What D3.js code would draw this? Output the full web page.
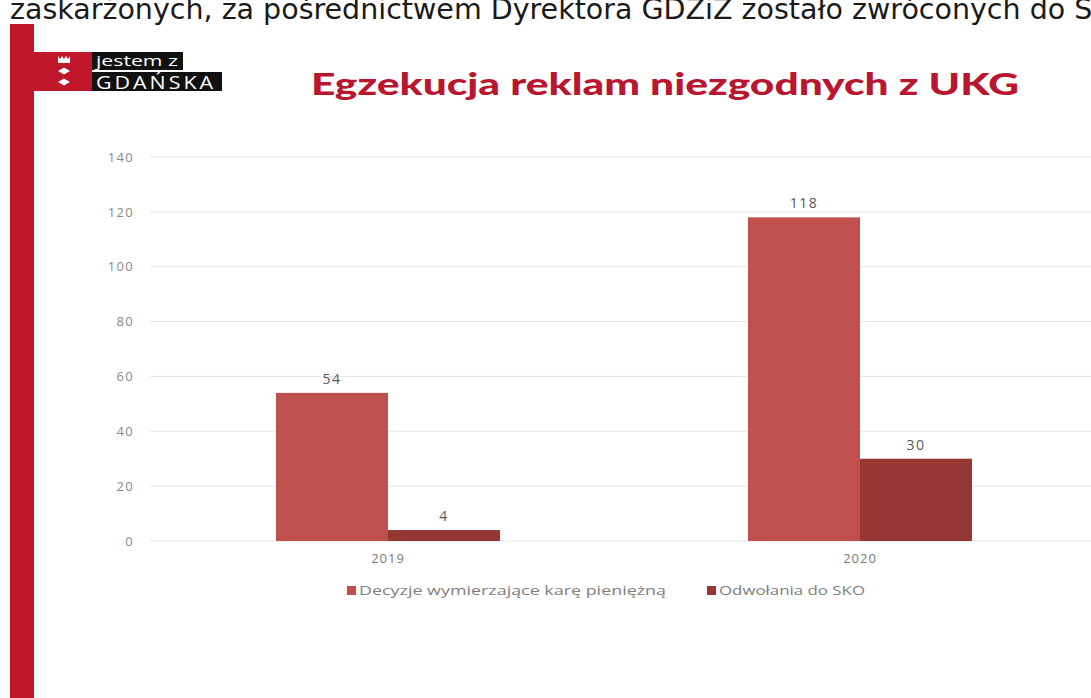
<!DOCTYPE html>
<html><head><meta charset="utf-8">
<script src="https://cdn.jsdelivr.net/npm/d3@7"></script>
<style>
html,body{margin:0;padding:0;background:#fff;overflow:hidden;}
svg{display:block;}
</style></head>
<body>
<svg id="c" width="1091" height="698"></svg>
<script>
const categories = ["2019", "2020"];
const seriesNames = ["Decyzje wymierzające karę pieniężną", "Odwołania do SKO"];
const decyzje = [54, 118];
const odwolania = [4, 30];
const yTicks = [0, 20, 40, 60, 80, 100, 120, 140];
const seriesColors = ["#c0504d", "#953735"];
const title = "Egzekucja reklam niezgodnych z UKG";
const headerText = "zaskarżonych, za pośrednictwem Dyrektora GDZiZ zostało zwróconych do SKO";

const svg = d3.select("#c");
const FONT = "Open Sans, sans-serif";

// header text (cut off at the top of the page, as in the source)
svg.append("text").attr("x", 10).attr("y", 19)
  .attr("font-family", "DejaVu Sans, sans-serif")
  .attr("font-size", 28.5).attr("fill", "#1a1a1a")
  .text(headerText);

// red frame
svg.append("rect").attr("x", 10).attr("y", 24).attr("width", 24).attr("height", 674).attr("fill", "#c0172a");
svg.append("rect").attr("x", 33).attr("y", 52).attr("width", 59).attr("height", 39).attr("fill", "#c0172a");
// crest
const crest = svg.append("g").attr("fill", "#fff");
crest.append("path").attr("d", "M58,56 L60,59 L62,56 L64,59 L66,56 L68,59 L70,56 L70,63 L58,63 Z");
crest.append("path").attr("d", "M58,71 L64,67.5 L70,71 L64,74.5 Z");
crest.append("path").attr("d", "M58,82 L64,78.5 L70,82 L64,85.5 Z");
// logo boxes
svg.append("rect").attr("x", 92).attr("y", 52).attr("width", 91).attr("height", 18).attr("fill", "#111");
svg.append("rect").attr("x", 92).attr("y", 72).attr("width", 130).attr("height", 19).attr("fill", "#111");
svg.append("text").attr("x", 96).attr("y", 66).attr("font-family", FONT)
  .attr("font-size", 15).attr("fill", "#fff")
  .attr("textLength", 82).attr("lengthAdjust", "spacingAndGlyphs").text("jestem z");
svg.append("text").attr("x", 96).attr("y", 89).attr("font-family", FONT)
  .attr("font-size", 18).attr("letter-spacing", 2.5).attr("fill", "#fff")
  .attr("textLength", 120).attr("lengthAdjust", "spacingAndGlyphs").text("GDAŃSKA");

// title
svg.append("text").attr("x", 311).attr("y", 95)
  .attr("font-family", "Lato, sans-serif").attr("font-weight", "900")
  .attr("font-size", 31).attr("fill", "#b8172f")
  .attr("textLength", 708).attr("lengthAdjust", "spacingAndGlyphs")
  .text(title);

// scales
const y = d3.scaleLinear().domain([0, 140]).range([541, 157]);
const x0 = d3.scaleBand().domain(categories).range([152, 1096])
  .paddingInner(248 / 472).paddingOuter(124 / 472);
const x1 = d3.scaleBand().domain(seriesNames).range([0, x0.bandwidth()]).padding(0);

// gridlines
svg.append("g").selectAll("line").data(yTicks).join("line")
  .attr("x1", 150).attr("x2", 1091)
  .attr("y1", d => y(d)).attr("y2", d => y(d))
  .attr("stroke", "#e6e6e6").attr("stroke-width", 1);

// y axis labels
const yAxis = d3.axisLeft(y).tickValues(yTicks).tickSize(0).tickPadding(0);
const ya = svg.append("g").attr("transform", "translate(134,0)").call(yAxis);
ya.select(".domain").remove();
ya.selectAll("text").attr("font-family", FONT).attr("font-size", 13)
  .attr("letter-spacing", 1.3).attr("fill", "#8a8a8a");

// bars
const data = categories.map((c, i) => ({cat: c, vals: [decyzje[i], odwolania[i]]}));
const groups = svg.append("g").selectAll("g").data(data).join("g")
  .attr("transform", d => `translate(${x0(d.cat)},0)`);
groups.selectAll("rect").data(d => d.vals.map((v, j) => ({name: seriesNames[j], v, j}))).join("rect")
  .attr("x", d => x1(d.name)).attr("width", x1.bandwidth())
  .attr("y", d => y(d.v)).attr("height", d => y(0) - y(d.v))
  .attr("fill", d => seriesColors[d.j]);
groups.selectAll("text.val").data(d => d.vals.map((v, j) => ({name: seriesNames[j], v, j}))).join("text")
  .attr("class", "val")
  .attr("x", d => x1(d.name) + x1.bandwidth() / 2).attr("y", d => y(d.v) - 9)
  .attr("text-anchor", "middle").attr("font-family", FONT)
  .attr("font-size", 14).attr("letter-spacing", 1.5).attr("fill", "#595959").text(d => d.v);

// x axis labels
const xAxis = d3.axisBottom(x0).tickSize(0).tickPadding(0);
const xa = svg.append("g").attr("transform", "translate(0,553)").call(xAxis);
xa.select(".domain").remove();
xa.selectAll("text").attr("font-family", FONT).attr("font-size", 13)
  .attr("letter-spacing", 1).attr("fill", "#7a7a7a").attr("dy", "0.8em");

// legend
const legendX = [347, 707];
const legendLen = [307, 146];
const lg = svg.append("g").selectAll("g").data(seriesNames).join("g")
  .attr("transform", (d, i) => `translate(${legendX[i]},586)`);
lg.append("rect").attr("width", 9).attr("height", 9).attr("fill", (d, i) => seriesColors[i]);
lg.append("text").attr("x", 12).attr("y", 9).attr("font-family", FONT)
  .attr("font-size", 13).attr("fill", "#808080")
  .attr("textLength", (d, i) => legendLen[i]).attr("lengthAdjust", "spacingAndGlyphs")
  .text(d => d);
</script>
</body></html>
